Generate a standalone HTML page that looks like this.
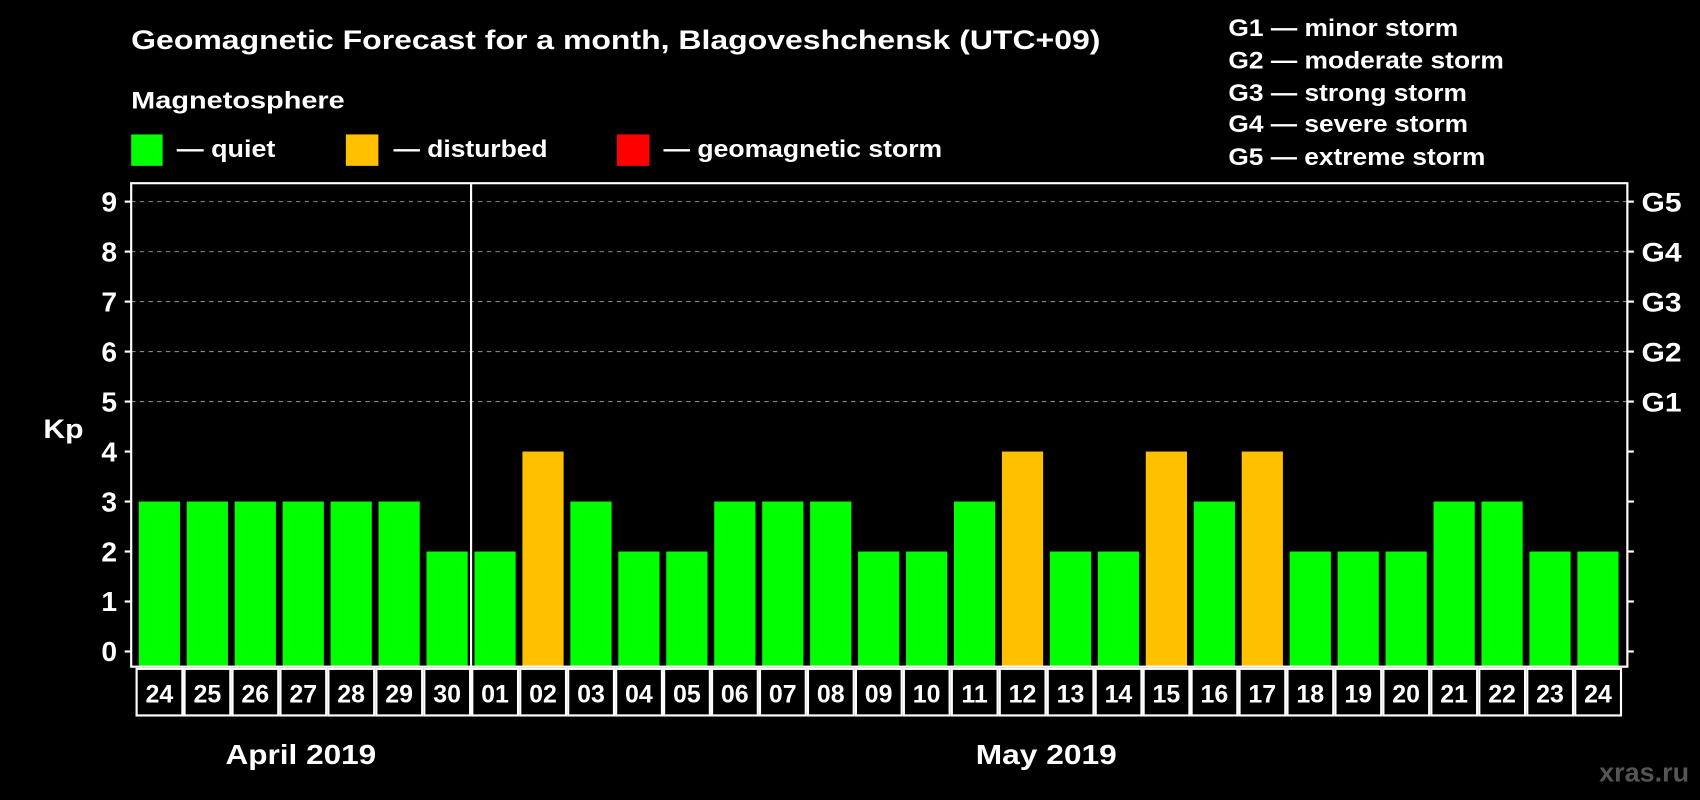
<!DOCTYPE html>
<html><head><meta charset="utf-8"><style>
html,body{margin:0;padding:0;background:#000;}
svg{display:block;font-family:"Liberation Sans",Arial,sans-serif;font-weight:bold;}
</style></head><body>
<svg id="c" width="1700" height="800" viewBox="0 0 1568 738" preserveAspectRatio="none">
<rect x="0" y="0" width="1568" height="738" fill="#000"/>
<text x="121" y="45" fill="#fff" font-size="25" textLength="894" lengthAdjust="spacingAndGlyphs">Geomagnetic Forecast for a month, Blagoveshchensk (UTC+09)</text>
<text x="121" y="100" fill="#fff" font-size="22" textLength="197" lengthAdjust="spacingAndGlyphs">Magnetosphere</text>
<rect x="121" y="124" width="29" height="29" fill="#00ff00"/>
<text x="163" y="145" fill="#fff" font-size="22" textLength="91" lengthAdjust="spacingAndGlyphs">— quiet</text>
<rect x="319" y="124" width="30" height="29" fill="#ffc000"/>
<text x="363" y="145" fill="#fff" font-size="22" textLength="142" lengthAdjust="spacingAndGlyphs">— disturbed</text>
<rect x="569" y="124" width="30" height="29" fill="#ff0000"/>
<text x="612" y="145" fill="#fff" font-size="22" textLength="257" lengthAdjust="spacingAndGlyphs">— geomagnetic storm</text>
<g fill="#fff" font-size="22" lengthAdjust="spacingAndGlyphs">
<text x="1133" y="33" textLength="212" lengthAdjust="spacingAndGlyphs">G1 — minor storm</text>
<text x="1133" y="63" textLength="254" lengthAdjust="spacingAndGlyphs">G2 — moderate storm</text>
<text x="1133" y="93" textLength="220" lengthAdjust="spacingAndGlyphs">G3 — strong storm</text>
<text x="1133" y="122" textLength="221" lengthAdjust="spacingAndGlyphs">G4 — severe storm</text>
<text x="1133" y="152" textLength="237" lengthAdjust="spacingAndGlyphs">G5 — extreme storm</text>
</g>
<text x="40" y="404" fill="#fff" font-size="25" textLength="37" lengthAdjust="spacingAndGlyphs">Kp</text>
<text x="208" y="705" fill="#fff" font-size="26" textLength="139" lengthAdjust="spacingAndGlyphs">April 2019</text>
<text x="900" y="705" fill="#fff" font-size="26" textLength="130" lengthAdjust="spacingAndGlyphs">May 2019</text>
<text x="1475" y="721" fill="#555" font-size="24" textLength="83" lengthAdjust="spacingAndGlyphs">xras.ru</text>
<g id="plot"></g>
</svg>
<script>
const days = ["24","25","26","27","28","29","30","01","02","03","04","05","06","07","08","09","10","11","12","13","14","15","16","17","18","19","20","21","22","23","24"];
const kpValues = [3,3,3,3,3,3,2,2,4,3,2,2,3,3,3,2,2,3,4,2,2,4,3,4,2,2,2,3,3,2,2];
const yTicks = [0,1,2,3,4,5,6,7,8,9];
const gLabels = ["G1","G2","G3","G4","G5"];
const NS="http://www.w3.org/2000/svg";
const g=document.getElementById('plot');
const L=121,R=1501,T=169,B=615;
const y=v=>601-v*46.11;
const step=44.23;
const x=i=>147+step*i;
function mk(t,a){const e=document.createElementNS(NS,t);for(const k in a)e.setAttribute(k,a[k]);g.appendChild(e);return e;}
yTicks.forEach(v=>{
  if(v>=5){const l=mk('line',{x1:L,x2:R,y1:y(v),y2:y(v),stroke:'#888','stroke-dasharray':'4,4','stroke-width':1});
  
  }
  const t1=mk('line',{x1:L-6,x2:L,y1:y(v),y2:y(v),stroke:'#fff','stroke-width':2});
  
  
  const t2=mk('line',{x1:R,x2:R+6,y1:y(v),y2:y(v),stroke:'#fff','stroke-width':2});
  
  
  const tx=mk('text',{x:L-13,y:y(v)+9,fill:'#fff','font-size':26,'text-anchor':'end'});
  tx.textContent=v;
  
  
  if(v>=5){const gt=mk('text',{x:R+13,y:y(v)+9,fill:'#fff','font-size':25,textLength:37,lengthAdjust:'spacingAndGlyphs'});
  gt.textContent=gLabels[v-5];
  
  }
});
kpValues.forEach((v,i)=>{
  const b=mk('rect',{x:x(i)-19,y:y(v),width:38,height:y(0)-y(v)+14,fill:v>=5?'#ff0000':(v>=4?'#ffc000':'#00ff00')});
  
  
  const bx=mk('rect',{x:x(i)-21,y:617,width:step-2,height:43,fill:'none',stroke:'#fff','stroke-width':2});
  
  
  const t=mk('text',{x:x(i),y:648,fill:'#fff','font-size':23,'text-anchor':'middle'});
  t.textContent=days[i];
  
  
});
const f=mk('rect',{x:L,y:T,width:R-L,height:B-T,fill:'none',stroke:'#fff','stroke-width':2});


const dx=(x(6)+x(7))/2;
const d=mk('line',{x1:dx,x2:dx,y1:T,y2:660,stroke:'#fff','stroke-width':2});


</script>
</body></html>
